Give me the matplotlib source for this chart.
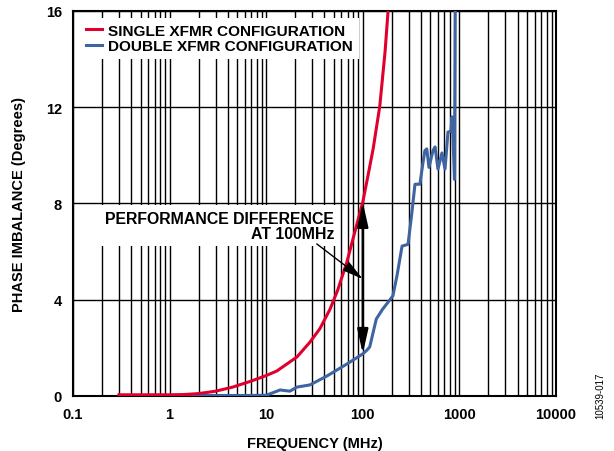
import matplotlib
matplotlib.use('Agg')
import matplotlib.pyplot as plt
from matplotlib.ticker import LogLocator, NullFormatter, FixedLocator, FixedFormatter

plt.rcParams['font.family'] = ['Liberation Sans', 'DejaVu Sans']
plt.rcParams['font.weight'] = 'bold'

# single transformer curve (MHz, degrees)
single_freq = [0.3, 0.5, 1, 1.4, 2, 3, 4.5, 7, 10, 12.9, 20.8, 28.4, 36, 45.7,
               55, 68.5, 80, 100, 115, 128, 150, 170, 185]
single_phase = [0.05, 0.05, 0.05, 0.06, 0.1, 0.2, 0.37, 0.62, 0.85, 1.04, 1.62,
                2.24, 2.8, 3.6, 4.4, 5.57, 6.6, 8.06, 9.3, 10.27, 12.05, 14.3, 16.3]

# double transformer curve
double_freq = [0.3, 1, 3, 6, 10, 12, 13.9, 16, 17.6, 20.8, 28.4, 42.5, 68.5, 100,
               110, 118, 138, 160, 205, 226, 255, 294, 323, 347, 390, 420, 440,
               460, 484, 533, 560, 600, 660, 710, 762, 816, 840, 855, 890, 905]
double_phase = [0.02, 0.02, 0.02, 0.02, 0.03, 0.15, 0.25, 0.22, 0.2, 0.37, 0.46,
                0.83, 1.33, 1.75, 1.9, 2.04, 3.2, 3.6, 4.16, 5.0, 6.23, 6.3, 7.65,
                8.8, 8.8, 9.7, 10.2, 10.27, 9.5, 10.2, 10.35, 9.43, 10.1, 9.43,
                10.97, 11.0, 11.6, 10.97, 9.0, 16.5]

xticks = [0.1, 1, 10, 100, 1000, 10000]
xtick_labels = ['0.1', '1', '10', '100', '1000', '10000']
yticks = [0, 4, 8, 12, 16]

red = '#E0002D'
blue = '#3F64A2'

fig = plt.figure(figsize=(6.14, 4.52), dpi=100)
ax = fig.add_axes([0.1189, 0.1217, 0.7866, 0.8518])

ax.plot(single_freq, single_phase, color=red, lw=2.2, zorder=4,
        label='SINGLE XFMR CONFIGURATION')
ax.plot(double_freq, double_phase, color=blue, lw=2.2, zorder=3,
        label='DOUBLE XFMR CONFIGURATION')

ax.set_xscale('log')
ax.set_xlim(0.1, 10000)
ax.set_ylim(0, 16)
ax.xaxis.set_major_locator(FixedLocator(xticks))
ax.xaxis.set_major_formatter(FixedFormatter(xtick_labels))
ax.xaxis.set_minor_locator(LogLocator(base=10, subs=range(2, 10)))
ax.xaxis.set_minor_formatter(NullFormatter())
ax.set_yticks(yticks)

ax.grid(which='both', axis='x', color='black', lw=1.0)
ax.grid(which='major', axis='y', color='black', lw=1.0)
ax.set_axisbelow(True)
for s in ax.spines.values():
    s.set_linewidth(1.5)

ax.tick_params(which='both', length=0, labelsize=10.5, pad=8)
ax.set_xlabel('FREQUENCY (MHz)', fontsize=10.5, fontweight='bold', labelpad=11)
ax.set_ylabel('PHASE IMBALANCE (Degrees)', fontsize=10.5, fontweight='bold', labelpad=14)

leg = ax.legend(loc='upper left', fontsize=11.1, frameon=True, fancybox=False,
                handlelength=1.05, handletextpad=0.42, labelspacing=0.08,
                borderpad=0.38, borderaxespad=0.45)
leg.get_frame().set_facecolor('white')
leg.get_frame().set_edgecolor('none')
leg.get_frame().set_alpha(1)
leg.set_zorder(5)

ax.text(50.4, 7.07, 'PERFORMANCE DIFFERENCE\nAT 100MHz', ha='right', va='center',
        multialignment='right', fontsize=11.4, fontweight='bold', linespacing=1.0,
        zorder=5, bbox=dict(facecolor='white', edgecolor='none', pad=4))

ax.annotate('', xy=(100, 8.06), xytext=(100, 1.75), zorder=6,
            arrowprops=dict(arrowstyle='<|-|>,head_length=0.9,head_width=0.2',
                            color='black', lw=1.8, mutation_scale=16,
                            shrinkA=0, shrinkB=0))
ax.annotate('', xy=(100, 4.86), xytext=(33.4, 6.32), zorder=6,
            arrowprops=dict(arrowstyle='-|>,head_length=0.8,head_width=0.2',
                            color='black', lw=1.0, mutation_scale=16,
                            shrinkA=0, shrinkB=0))

fig.text(0.977, 0.124, '10539-017', rotation=90, ha='center', va='center',
         fontsize=7, fontweight='normal')

fig.savefig('out.png', dpi=100)
